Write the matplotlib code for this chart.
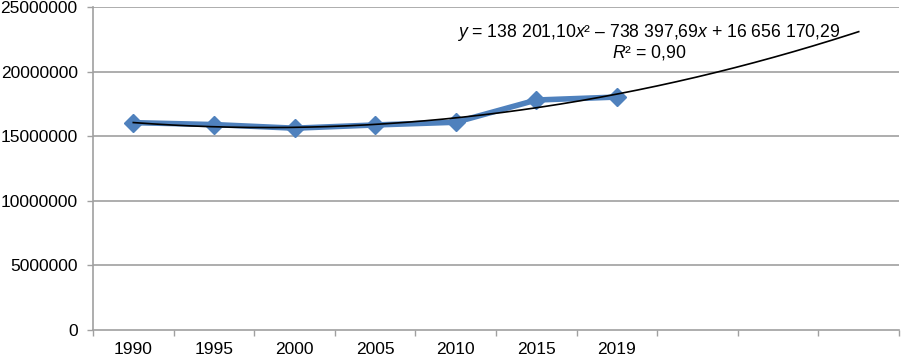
import numpy as np
import matplotlib
matplotlib.use("Agg")
import matplotlib.pyplot as plt

# data
years = ["1990", "1995", "2000", "2005", "2010", "2015", "2019"]
values = [16050000, 15900000, 15620000, 15870000, 16080000, 17800000, 18030000]
# polynomial trend (from the chart label), extended 3 periods forward
trend_coef = [138201.10, -738397.69, 16656170.29]
n_forward = 3

plt.rcParams['font.family'] = ['Liberation Sans', 'DejaVu Sans']
plt.rcParams['mathtext.fontset'] = 'custom'
plt.rcParams['mathtext.rm'] = 'Liberation Sans'
plt.rcParams['mathtext.it'] = 'Liberation Sans:italic'

fig = plt.figure(figsize=(9.01, 3.58), dpi=100)
ax = fig.add_axes([93 / 901, 1 - 330 / 358, 806 / 901, 323 / 358])

grid_col = "#a0a0a0"
blue = "#4f81bd"

x = np.arange(1, len(years) + 1)
n_cat = len(years) + n_forward

for yv in range(5000000, 25000001, 5000000):
    ax.axhline(yv, color=grid_col, lw=1.2, zorder=1)

ax.plot(x, values, color=blue, lw=4, marker="D", markersize=9,
        markerfacecolor=blue, markeredgecolor=blue, zorder=3)

xt = np.linspace(1, n_cat, 300)
ax.plot(xt, np.polyval(trend_coef, xt), color="black", lw=1.2, zorder=4)

ax.set_xlim(0.5, n_cat + 0.5)
ax.set_ylim(0, 25000000)
ax.set_yticks(range(0, 25000001, 5000000))
ax.set_yticklabels([str(v) for v in range(0, 25000001, 5000000)])
ax.set_xticks(x)
ax.set_xticklabels(years)
ax.set_xticks(np.arange(0.5, n_cat + 1, 1), minor=True)

for s in ["top", "right"]:
    ax.spines[s].set_visible(False)
for s in ["left", "bottom"]:
    ax.spines[s].set_color(grid_col)
    ax.spines[s].set_linewidth(1.2)

ax.tick_params(axis="x", which="major", length=0, pad=9, labelsize=12.5)
ax.tick_params(axis="x", which="minor", length=4, color=grid_col, width=1)
ax.tick_params(axis="y", length=4, color=grid_col, width=1, pad=7, labelsize=12.5)

ax.text(7.4, 22990000, r"$y$ = 138 201,10$x$² – 738 397,69$x$ + 16 656 170,29",
        ha="center", va="center", fontsize=12.7, zorder=5)
ax.text(7.4, 21440000, r"$R$² = 0,90",
        ha="center", va="center", fontsize=12.7, zorder=5)

fig.savefig("out.png", dpi=100)
